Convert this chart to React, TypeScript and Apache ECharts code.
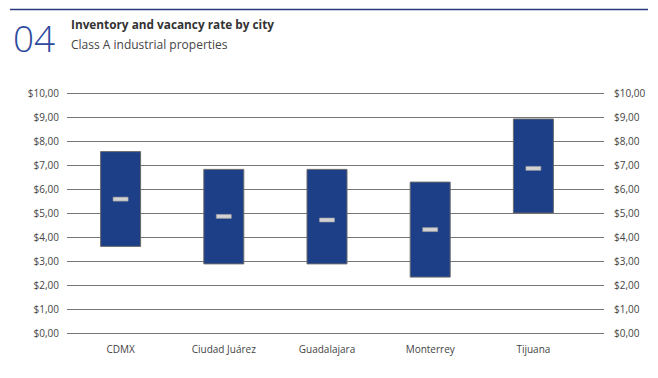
import React, { useEffect, useRef } from "react";
import * as echarts from "echarts";

const cities = ["CDMX", "Ciudad Juárez", "Guadalajara", "Monterrey", "Tijuana"];
const lowValues = [3.58, 2.85, 2.85, 2.3, 4.97];
const highValues = [7.57, 6.83, 6.83, 6.3, 8.93];
const midValues = [5.57, 4.85, 4.7, 4.3, 6.85];
const yTicks = [0, 1, 2, 3, 4, 5, 6, 7, 8, 9, 10];

const fmt = (v: number) => "$" + v.toFixed(2).replace(".", ",");

export default function App() {
  const ref = useRef<HTMLDivElement>(null);
  useEffect(() => {
    if (!ref.current) return;
    const chart = echarts.init(ref.current, null, { renderer: "svg" });
    const font = "Open Sans";
    const top = 92.8;
    const bottom = 378 - 332.8;
    chart.setOption({
      animation: false,
      textStyle: { fontFamily: font },
      graphic: [
        { type: "line", shape: { x1: 10, y1: 9.5, x2: 648, y2: 9.5 }, style: { stroke: "#2b3a7c", lineWidth: 1.5 } },
        { type: "text", x: 13, y: 19, style: { text: "04", font: `300 37px '${font}'`, fill: "#2e4a9e" } },
        { type: "text", x: 71, y: 17.5, style: { text: "Inventory and vacancy rate by city", font: `bold 11.8px '${font}'`, fill: "#333333" } },
        { type: "text", x: 71, y: 38, style: { text: "Class A industrial properties", font: `12px '${font}'`, fill: "#444444" } },
      ],
      grid: [
        { left: 67, right: 54, top, bottom },
        { left: 69, right: 73, top, bottom },
      ],
      xAxis: [
        { gridIndex: 0, type: "value", min: 0, max: 1, show: false },
        {
          gridIndex: 1,
          type: "category",
          data: cities,
          axisLine: { show: false },
          axisTick: { show: false },
          axisLabel: { color: "#444444", fontSize: 10, margin: 11, fontFamily: font },
        },
      ],
      yAxis: [
        {
          gridIndex: 0,
          type: "value",
          min: yTicks[0],
          max: yTicks[yTicks.length - 1],
          interval: 1,
          position: "left",
          axisLine: { show: false },
          axisTick: { show: false },
          axisLabel: { formatter: fmt, color: "#444444", fontSize: 10, margin: 8, fontFamily: font },
          splitLine: { lineStyle: { color: "#767676", width: 1.2 } },
        },
        {
          gridIndex: 0,
          type: "value",
          min: yTicks[0],
          max: yTicks[yTicks.length - 1],
          interval: 1,
          position: "right",
          axisLine: { show: false },
          axisTick: { show: false },
          axisLabel: { formatter: fmt, color: "#444444", fontSize: 10, margin: 10, fontFamily: font },
          splitLine: { show: false },
        },
        { gridIndex: 1, type: "value", min: 0, max: 10, show: false },
      ],
      series: [
        {
          type: "bar",
          xAxisIndex: 1,
          yAxisIndex: 2,
          stack: "r",
          barWidth: 41,
          itemStyle: { color: "transparent" },
          data: lowValues,
          silent: true,
        },
        {
          type: "bar",
          xAxisIndex: 1,
          yAxisIndex: 2,
          stack: "r",
          barWidth: 41,
          itemStyle: { color: "#1c3f88", borderColor: "#6b6b6b", borderWidth: 1 },
          data: highValues.map((h, i) => +(h - lowValues[i]).toFixed(2)),
        },
        {
          type: "scatter",
          xAxisIndex: 1,
          yAxisIndex: 2,
          symbol: "rect",
          symbolSize: [15, 4],
          itemStyle: { color: "#d2d2d2", borderColor: "#9a9a9a", borderWidth: 0.5, opacity: 1 },
          data: midValues,
          z: 5,
        },
      ],
    });
    return () => chart.dispose();
  }, []);
  return (
    <div
      ref={ref}
      style={{ position: "absolute", left: 0, top: 0, width: 658, height: 378, background: "#ffffff" }}
    />
  );
}
